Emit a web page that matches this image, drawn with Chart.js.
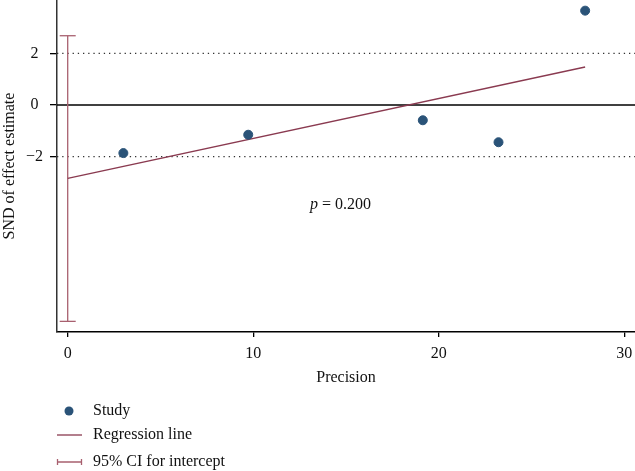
<!DOCTYPE html>
<html>
<head>
<meta charset="utf-8">
<script src="https://cdn.jsdelivr.net/npm/chart.js@4"></script>
<style>
html, body { margin: 0; padding: 0; background: #fff; }
</style>
</head>
<body>
<canvas id="galbraith" width="635" height="471"></canvas>
<script>
// data
const precision = [3.0, 9.73, 19.14, 23.22, 27.89];
const sndEstimate = [-1.86, -1.15, -0.59, -1.44, 3.65];
const regX = [0, 27.89];
const regY = [-2.84, 1.47];
const ciX = [0, 0];
const ciY = [-8.37, 2.68];
const refLevels = [2, 0, -2];
const xTicks = [0, 10, 20, 30];
const yTicks = [-2, 0, 2];
const xRange = [-0.577, 30.577];
const yRange = [-8.781, 4.062];
const pValue = '0.200';
const pPos = [13.06, -3.87];
const legendLabels = ['Study', 'Regression line', '95% CI for intercept'];

const dotColor = '#2a5378';
const regColor = '#8a3a50';
const ciColor = '#a8606f';
const FONT = "'Liberation Serif', 'DejaVu Serif', serif";

Chart.defaults.font.family = FONT;
Chart.defaults.font.size = 16;
Chart.defaults.color = '#111';

const toPts = (xs, ys) => xs.map((x, i) => ({ x: x, y: ys[i] }));

const refSets = refLevels.map(v => ({
    label: 'ref' + v,
    data: toPts(xRange, [v, v]),
    showLine: true,
    pointRadius: 0,
    borderColor: v === 0 ? '#000' : '#333',
    borderWidth: v === 0 ? 1.5 : 1.3,
    borderDash: v === 0 ? [] : [1.3, 3.9],
    order: 5
}));

// p value + legend, drawn on the canvas
const extras = {
    id: 'extras',
    afterDraw(chart) {
        const { ctx, scales } = chart;
        ctx.save();
        ctx.fillStyle = '#111';
        ctx.textBaseline = 'middle';
        ctx.textAlign = 'left';
        let px = scales.x.getPixelForValue(pPos[0]);
        const py = scales.y.getPixelForValue(pPos[1]);
        ctx.font = 'italic 16px ' + FONT;
        ctx.fillText('p', px, py);
        px += ctx.measureText('p').width;
        ctx.font = '16px ' + FONT;
        ctx.fillText(' = ' + pValue, px, py);

        // legend
        const tx = 93;
        const rows = [411, 435, 462];
        ctx.fillStyle = dotColor;
        ctx.beginPath();
        ctx.arc(69, rows[0], 4.5, 0, Math.PI * 2);
        ctx.fill();

        ctx.strokeStyle = regColor;
        ctx.lineWidth = 1.3;
        ctx.beginPath();
        ctx.moveTo(57, rows[1]);
        ctx.lineTo(82, rows[1]);
        ctx.stroke();

        ctx.strokeStyle = ciColor;
        ctx.beginPath();
        ctx.moveTo(57, rows[2]);
        ctx.lineTo(82, rows[2]);
        ctx.moveTo(57.5, rows[2] - 3);
        ctx.lineTo(57.5, rows[2] + 3);
        ctx.moveTo(81.5, rows[2] - 3);
        ctx.lineTo(81.5, rows[2] + 3);
        ctx.stroke();

        ctx.fillStyle = '#111';
        ctx.font = '16px ' + FONT;
        legendLabels.forEach((t, i) => ctx.fillText(t, tx, rows[i]));
        ctx.restore();
    }
};

const chart = new Chart(document.getElementById('galbraith'), {
    type: 'scatter',
    data: {
        datasets: [
            ...refSets,
            {
                label: '95% CI for intercept',
                data: toPts(ciX, ciY),
                showLine: true,
                borderColor: ciColor,
                borderWidth: 1.3,
                pointStyle: 'line',
                pointRadius: 8,
                pointBorderColor: ciColor,
                pointBorderWidth: 1.3,
                order: 3
            },
            {
                label: 'Regression line',
                data: toPts(regX, regY),
                showLine: true,
                pointRadius: 0,
                borderColor: regColor,
                borderWidth: 1.4,
                order: 2
            },
            {
                label: 'Study',
                data: toPts(precision, sndEstimate),
                backgroundColor: dotColor,
                borderColor: dotColor,
                pointRadius: 4.5,
                order: 1
            }
        ]
    },
    options: {
        responsive: false,
        animation: false,
        layout: { autoPadding: false, padding: { left: 0, right: 0, top: 0, bottom: 84 } },
        plugins: {
            legend: { display: false },
            tooltip: { enabled: false }
        },
        scales: {
            x: {
                type: 'linear',
                min: xRange[0],
                max: xRange[1],
                afterBuildTicks: s => { s.ticks = xTicks.map(v => ({ value: v })); },
                afterFit: s => { s.height = 55; s.paddingLeft = 0; s.paddingRight = 0; },
                grid: { drawOnChartArea: false, drawTicks: true, tickLength: 5, color: '#000', lineWidth: 1.3 },
                border: { display: true, color: '#000', width: 1.5 },
                ticks: { padding: 7, color: '#111', maxRotation: 0 },
                title: { display: true, text: 'Precision', padding: 0, color: '#111' }
            },
            y: {
                min: yRange[0],
                max: yRange[1],
                afterBuildTicks: s => { s.ticks = yTicks.map(v => ({ value: v })); },
                afterFit: s => { s.width = 57; s.paddingTop = 0; s.paddingBottom = 0; },
                grid: { drawOnChartArea: false, drawTicks: true, tickLength: 7, color: '#000', lineWidth: 1.3 },
                border: { display: true, color: '#333', width: 1.5 },
                ticks: {
                    padding: 7,
                    crossAlign: 'center',
                    color: '#111',
                    callback: v => (v < 0 ? '\u2212' + Math.abs(v) : String(v))
                },
                title: { display: true, text: 'SND of effect estimate', padding: 0, color: '#111' }
            }
        }
    },
    plugins: [extras]
});
</script>
</body>
</html>
